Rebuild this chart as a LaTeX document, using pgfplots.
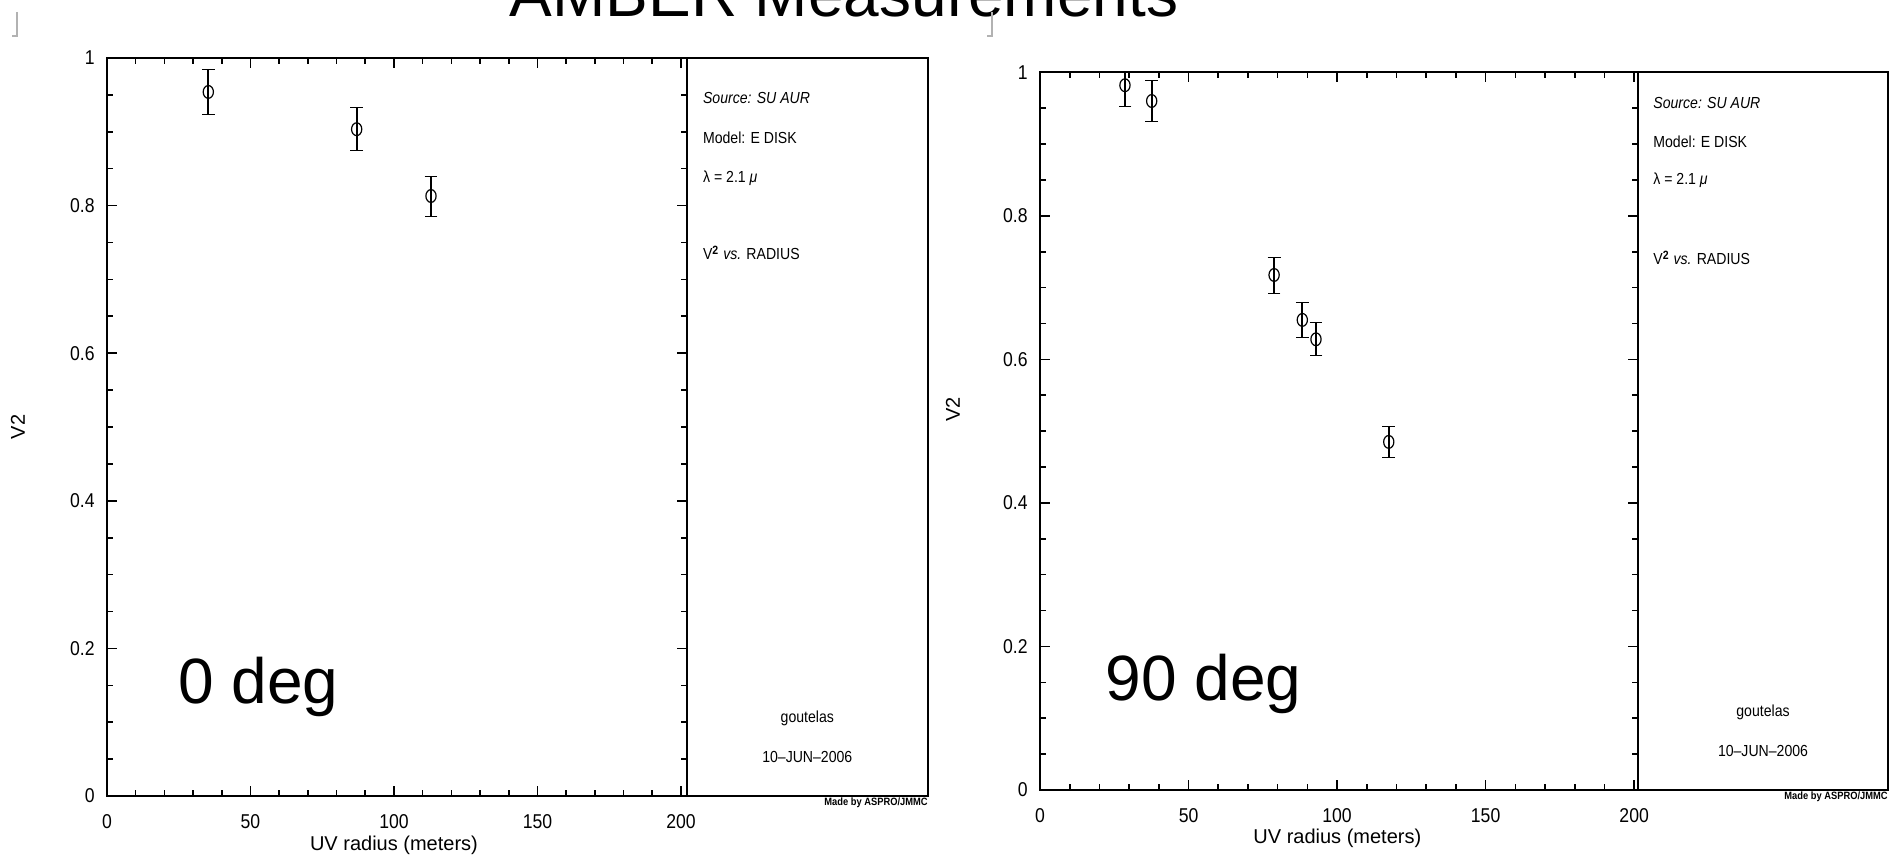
\documentclass[border=0pt]{standalone}
\usepackage{pgfplots}
\pgfplotsset{compat=1.18}
\usepackage{fontspec}
\setmainfont{Liberation Sans}
\newfontfamily\hershey[FakeStretch=0.88]{Liberation Sans}

\pgfplotstableread{
x y e
35.3 0.954 0.030
87.0 0.9035 0.029
112.9 0.813 0.027
}\leftdata
\pgfplotstableread{
x y e
28.6 0.982 0.030
37.6 0.960 0.029
78.8 0.7176 0.025
88.3 0.655 0.024
92.9 0.628 0.023
117.4 0.485 0.021
}\rightdata

\pgfplotsset{
  panel/.style={
    scale only axis, anchor=south west,
    xmin=0, ymin=0, ymax=1,
    xtick={0,50,100,150,200}, minor x tick num=4,
    ytick={0,0.2,0.4,0.6,0.8,1}, minor y tick num=3,
    xtick pos=both, ytick pos=both, tick align=inside,
    major tick length=5pt, minor tick length=3pt,
    axis line style={line width=0.9pt},
    every tick/.style={black, line width=0.8pt},
    /pgf/number format/assume math mode=true,
    tick label style={font=\hershey\fontsize{10}{12}\selectfont},
    xticklabel style={anchor=base, yshift=-16.2pt},
    yticklabel style={anchor=east, inner sep=0pt, xshift=-6pt},
    label style={font=\hershey\fontsize{10.5}{12}\selectfont},
    xlabel={UV radius (meters)},
    ylabel={V2},
    clip=true,
  },
  pts/.style={black, only marks, mark=o, mark size=3.2pt,
    mark options={xscale=0.8, line width=0.6pt},
    error bars/.cd, y dir=both, y explicit,
    error bar style={line width=0.9pt}},
}

\begin{document}
\begin{tikzpicture}
\path[use as bounding box] (0pt,0pt) rectangle (946pt,429pt);

% ---------- left panel ----------
\begin{axis}[panel, at={(53.5pt,31pt)}, width=289.85pt, height=369pt, xmax=202,
  every axis x label/.style={at={(axis description cs:0.495,0)}, anchor=center, yshift=-24.5pt},
  every axis y label/.style={at={(axis description cs:-0.1535,0.5)}, rotate=90, anchor=center}]
\addplot[pts] table[x=x, y=y, y error=e] {\leftdata};
\node[font=\fontsize{32}{36}\selectfont, anchor=base west, inner sep=0pt] at (axis cs:24.7,0.126) {0 deg};
\end{axis}
\draw[line width=0.9pt] (343.35pt,31pt) rectangle (464pt,400pt);
\begin{scope}[every node/.style={font=\hershey\fontsize{8}{10}\selectfont, inner sep=0pt, anchor=base west}]
\node at (351.35pt,377pt) {\itshape Source: SU AUR};
\node at (351.35pt,357pt) {Model: E DISK};
\node at (351.35pt,337.8pt) {λ = 2.1 \textit{μ}};
\node at (351.35pt,299.1pt) {V\textsuperscript{\bfseries 2} \textit{vs.} RADIUS};
\node[anchor=center] at (403.65pt,69.85pt) {goutelas};
\node[anchor=center] at (403.65pt,50.65pt) {10–JUN–2006};
\node[anchor=north east, font=\hershey\bfseries\fontsize{5.3}{6}\selectfont] at (464pt,30.3pt) {Made by ASPRO/JMMC};
\end{scope}

% ---------- right panel ----------
\begin{axis}[panel, at={(520pt,34pt)}, width=299.15pt, height=358.85pt, xmax=201.4,
  every axis x label/.style={at={(axis description cs:0.497,0)}, anchor=center, yshift=-24pt},
  every axis y label/.style={at={(axis description cs:-0.1454,0.53)}, rotate=90, anchor=center}]
\addplot[pts] table[x=x, y=y, y error=e] {\rightdata};
\node[font=\fontsize{32}{36}\selectfont, anchor=base west, inner sep=0pt] at (axis cs:22.0,0.125) {90 deg};
\end{axis}
\draw[line width=0.9pt] (819.15pt,34pt) rectangle (944pt,392.85pt);
\begin{scope}[every node/.style={font=\hershey\fontsize{8}{10}\selectfont, inner sep=0pt, anchor=base west}]
\node at (826.5pt,374.8pt) {\itshape Source: SU AUR};
\node at (826.5pt,355.3pt) {Model: E DISK};
\node at (826.5pt,336.6pt) {λ = 2.1 \textit{μ}};
\node at (826.5pt,296.6pt) {V\textsuperscript{\bfseries 2} \textit{vs.} RADIUS};
\node[anchor=center] at (881.5pt,72.85pt) {goutelas};
\node[anchor=center] at (881.5pt,53.65pt) {10–JUN–2006};
\node[anchor=north east, font=\hershey\bfseries\fontsize{5.3}{6}\selectfont] at (944pt,33.3pt) {Made by ASPRO/JMMC};
\end{scope}

% ---------- title and icons ----------
\node[font=\fontsize{32}{36}\selectfont, anchor=base, inner sep=0pt] at (422pt,420.5pt) {AMBER Measurements};
\draw[black!30, line width=1.2pt] (8.5pt,423pt) -- (8.5pt,411pt) -- (6pt,411pt);
\draw[black!30, line width=1.2pt] (496pt,423pt) -- (496pt,411pt) -- (493.5pt,411pt);
\end{tikzpicture}
\end{document}
